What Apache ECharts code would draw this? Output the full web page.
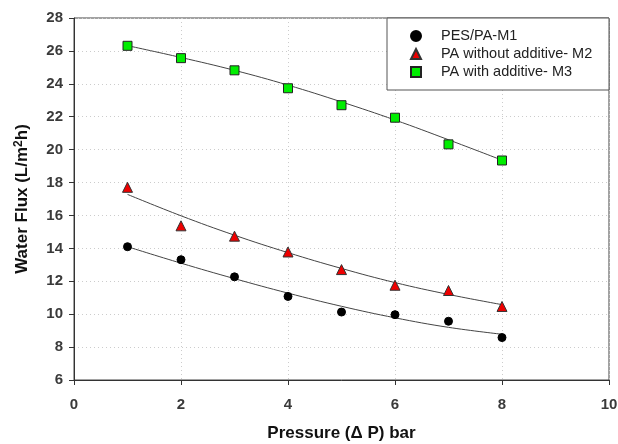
<!DOCTYPE html>
<html>
<head>
<meta charset="utf-8">
<script src="https://cdn.jsdelivr.net/npm/echarts@6/dist/echarts.min.js"></script>
<style>
  html, body { margin: 0; padding: 0; background: #fff; }
  #chart { width: 618px; height: 444px; }
</style>
</head>
<body>
<div id="chart"></div>
<script>
const pressure = [1, 2, 3, 4, 5, 6, 7, 8];
const m1 = [14.10, 13.31, 12.27, 11.08, 10.13, 9.97, 9.57, 8.58];
const m2 = [17.71, 15.37, 14.74, 13.78, 12.71, 11.76, 11.44, 10.47];
const m3 = [26.31, 25.56, 24.82, 23.73, 22.70, 21.94, 20.32, 19.34];

// fitted curves at each pressure
const fit1 = [14.10, 13.10, 12.16, 11.28, 10.48, 9.78, 9.20, 8.78];
const fit2 = [17.28, 15.98, 14.80, 13.74, 12.78, 11.92, 11.20, 10.58];
const fit3 = [26.32, 25.60, 24.82, 23.92, 22.90, 21.80, 20.60, 19.36];

const names = ['PES/PA-M1', 'PA without additive- M2', 'PA with additive- M3'];

const pairs = ys => pressure.map((x, i) => [x, ys[i]]);

const chart = echarts.init(document.getElementById('chart'), null, { renderer: 'canvas' });

const font = 'Liberation Sans, Arial';

const fitLine = ys => ({
  type: 'line',
  data: pairs(ys),
  smooth: 0.4,
  showSymbol: false,
  silent: true,
  lineStyle: { color: '#444', width: 1 },
  z: 1
});

chart.setOption({
  animation: false,
  grid: {
    left: 74, right: 9, top: 18, bottom: 64,
    outerBoundsMode: 'none',
    containLabel: false,
    show: true, borderColor: '#444', borderWidth: 1
  },
  graphic: [{
    type: 'rect',
    shape: { x: 387, y: 18, width: 222, height: 72 },
    style: { fill: '#fff', stroke: '#555', lineWidth: 1 },
    z: 5
  }],
  legend: {
    orient: 'vertical',
    left: 405,
    top: 23,
    itemGap: 2,
    itemWidth: 10,
    itemHeight: 10,
    z: 10,
    textStyle: { fontFamily: font, fontSize: 14.5, lineHeight: 16, color: '#222', padding: [0, 0, 0, 15] },
    data: names
  },
  xAxis: {
    type: 'value',
    min: 0, max: 10, interval: 2,
    name: 'Pressure (Δ P) bar',
    nameLocation: 'middle',
    nameGap: 45,
    nameTextStyle: { fontFamily: font, fontSize: 17, fontWeight: 'bold', color: '#111' },
    axisLine: { show: true, lineStyle: { color: '#333' } },
    axisTick: { show: true, inside: false, length: 5, lineStyle: { color: '#333' } },
    axisLabel: { margin: 17, fontFamily: font, fontSize: 15, fontWeight: 'bold', color: '#3a3a3a' },
    splitLine: { show: true, lineStyle: { color: '#ccc', type: [1, 3] } }
  },
  yAxis: {
    type: 'value',
    min: 6, max: 28, interval: 2,
    name: 'Water Flux (L/m{sup|2}h)',
    nameLocation: 'middle',
    nameRotate: 90,
    nameGap: 42,
    nameTextStyle: {
      fontFamily: font, fontSize: 17, fontWeight: 'bold', color: '#111',
      rich: {
        sup: { fontFamily: font, fontSize: 12, fontWeight: 'bold', color: '#111', verticalAlign: 'top', padding: [0, 0, 7, 0] }
      }
    },
    axisLine: { show: true, lineStyle: { color: '#333' } },
    axisTick: { show: true, inside: false, length: 5, lineStyle: { color: '#333' } },
    axisLabel: { margin: 11, fontFamily: font, fontSize: 15, fontWeight: 'bold', color: '#3a3a3a' },
    splitLine: { show: true, lineStyle: { color: '#ccc', type: [1, 3] } }
  },
  series: [
    fitLine(fit1),
    fitLine(fit2),
    fitLine(fit3),
    {
      name: names[0],
      type: 'scatter',
      data: pairs(m1),
      symbol: 'circle',
      symbolSize: 8,
      itemStyle: { color: '#000', borderColor: '#000', borderWidth: 1, opacity: 1 },
      z: 3
    },
    {
      name: names[1],
      type: 'scatter',
      data: pairs(m2),
      symbol: 'triangle',
      symbolSize: 10,
      itemStyle: { color: '#ee0000', borderColor: '#333', borderWidth: 1, opacity: 1 },
      z: 3
    },
    {
      name: names[2],
      type: 'scatter',
      data: pairs(m3),
      symbol: 'rect',
      symbolSize: 9,
      itemStyle: { color: '#00ee00', borderColor: '#222', borderWidth: 1, opacity: 1 },
      z: 3
    }
  ]
});
</script>
</body>
</html>
